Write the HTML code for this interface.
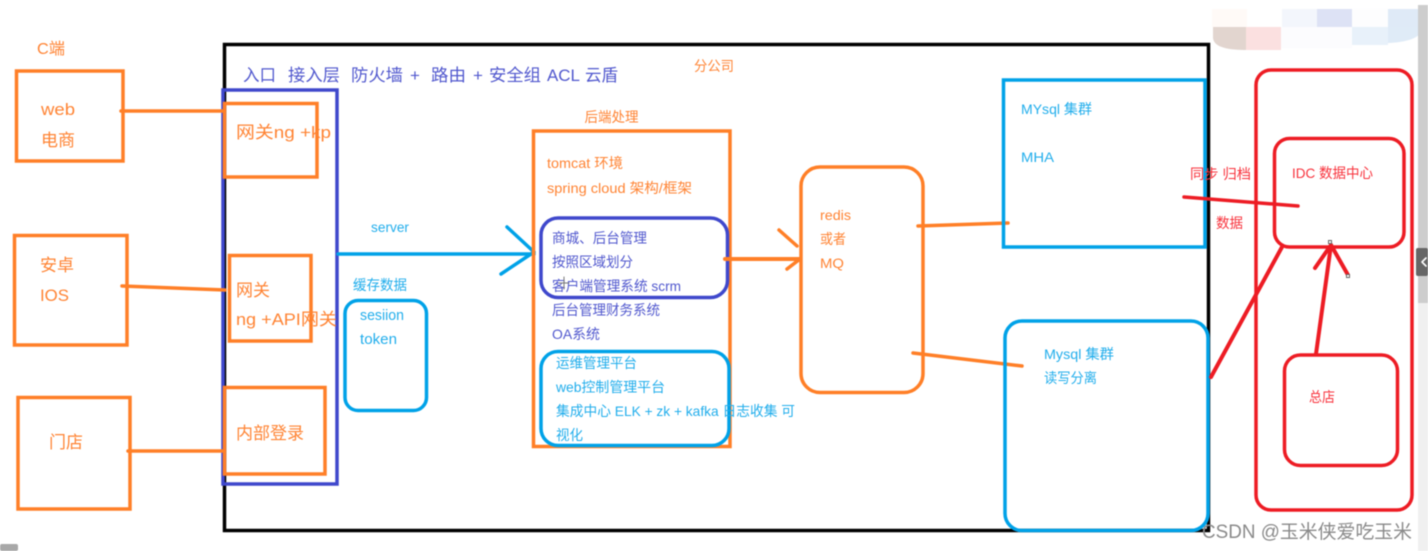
<!DOCTYPE html>
<html lang="zh-CN">
<head>
<meta charset="utf-8">
<title>架构图</title>
<style>
html,body{margin:0;padding:0;background:#fff;width:1428px;height:551px;overflow:hidden}
svg{display:block;filter:blur(.4px)}
text{font-family:"Liberation Sans","Noto Sans CJK SC",sans-serif;font-size:14px}
.o{fill:#ff8434}.b{fill:#22aeec}.i{fill:#5158ce}.r{fill:#f8323c}
.big{font-size:17px}.mid{font-size:15px}
.so{stroke:#ff7f27}.sb{stroke:#00a2e8}.si{stroke:#3f48cc}.sr{stroke:#ed1c24}
rect{fill:none}
line,polyline{fill:none;stroke-linecap:round;stroke-linejoin:round}
</style>
</head>
<body>
<svg width="1428" height="551" viewBox="0 0 1428 551" xmlns="http://www.w3.org/2000/svg">
<rect x="0" y="0" width="1428" height="551" style="fill:#fff"/>

<!-- mosaic -->
<g>
<rect x="1212" y="9" width="35" height="18" style="fill:#fffaf7"/>
<rect x="1282" y="9" width="35" height="18" style="fill:#f3f6fc"/>
<rect x="1317" y="9" width="35" height="18" style="fill:#dde2f5"/>
<rect x="1352" y="9" width="36" height="18" style="fill:#fdfdfe"/>
<rect x="1388" y="9" width="34" height="18" style="fill:#dfeaf7"/>
<path d="M1213 27H1247V50C1230 50 1214 48 1213 38Z" style="fill:#e2d5cf"/>
<rect x="1246" y="27" width="35" height="23" style="fill:#fbe0e0"/>
<rect x="1281" y="27" width="71" height="21" style="fill:#fcfcfe"/>
<rect x="1352" y="27" width="36" height="18" style="fill:#e8f1fa"/>
<path d="M1388 27H1423C1422 37 1410 42 1388 43Z" style="fill:#dfebf7"/>
</g>

<!-- scrollbar -->
<rect x="1418" y="5" width="10" height="546" style="fill:#f0f0f0"/>
<rect x="1418" y="5" width="10" height="298" style="fill:#cdcdcd"/>
<rect x="1416" y="248" width="12" height="28" rx="2" style="fill:#666"/>
<polyline points="1426,258 1422,262 1426,266" style="stroke:#fff;stroke-width:1.6"/>
<rect x="0" y="544" width="18" height="7" rx="2" style="fill:#a8a8a8"/>

<!-- outer black -->
<rect x="224.5" y="44.5" width="984" height="486" style="stroke:#000;stroke-width:3.5"/>

<!-- entry layer -->
<rect x="223" y="90" width="114" height="394" class="si" stroke-width="3.5"/>
<rect x="16.5" y="71" width="106.500" height="90" class="so" stroke-width="3.500"/>
<rect x="14.5" y="235.500" width="112.500" height="109.500" class="so" stroke-width="3.500"/>
<rect x="18" y="397.500" width="112" height="111.500" class="so" stroke-width="3.500"/>
<rect x="224.500" y="103.500" width="92.500" height="73.500" class="so" stroke-width="3.500"/>
<rect x="229.500" y="255.500" width="81.500" height="85.500" class="so" stroke-width="3.500"/>
<rect x="224.500" y="387.500" width="100.500" height="86.500" class="so" stroke-width="3.500"/>
<line x1="121" y1="111" x2="223" y2="111" class="so" stroke-width="3.500"/>
<line x1="122" y1="286" x2="225" y2="290" class="so" stroke-width="3.500"/>
<line x1="128" y1="451" x2="222" y2="451" class="so" stroke-width="3.500"/>

<!-- server arrow -->
<line x1="338" y1="254" x2="534" y2="254" class="sb" stroke-width="3.500"/>
<polyline points="507,227 534,252 501,274" class="sb" stroke-width="3.500"/>
<rect x="345" y="300.500" width="81.500" height="110" rx="13" class="sb" stroke-width="3.500"/>

<!-- backend -->
<rect x="533.500" y="131" width="196.500" height="315.500" class="so" stroke-width="3.500"/>
<rect x="541" y="218" width="186.500" height="79.500" rx="17" class="si" stroke-width="3.500"/>
<rect x="541" y="351.500" width="188" height="94" rx="17" class="sb" stroke-width="3.500"/>
<line x1="725" y1="259" x2="799" y2="259" class="so" stroke-width="4"/>
<line x1="779" y1="230" x2="797" y2="246" class="so" stroke-width="3.500"/>
<line x1="787" y1="269" x2="800" y2="259" class="so" stroke-width="3.500"/>

<!-- redis -->
<rect x="801" y="167" width="122" height="225.500" rx="19" class="so" stroke-width="3.500"/>
<line x1="918" y1="226" x2="1008" y2="223" class="so" stroke-width="3.500"/>
<line x1="913" y1="353" x2="1022" y2="366" class="so" stroke-width="3.500"/>

<!-- mysql -->
<rect x="1003.500" y="80" width="201.500" height="167" class="sb" stroke-width="3.500"/>
<rect x="1005" y="321" width="203" height="209.500" rx="17" class="sb" stroke-width="3.500"/>

<!-- red -->
<rect x="1256" y="70" width="156" height="440" rx="15" class="sr" stroke-width="3.500"/>
<rect x="1274.500" y="138.500" width="129.500" height="108.500" rx="15" class="sr" stroke-width="3.500"/>
<rect x="1284.500" y="355" width="113" height="110.500" rx="16" class="sr" stroke-width="3.500"/>
<line x1="1184" y1="197" x2="1298" y2="206" class="sr" stroke-width="3.500"/>
<line x1="1211" y1="377" x2="1282" y2="247" class="sr" stroke-width="4"/>
<line x1="1316" y1="354" x2="1331" y2="245" class="sr" stroke-width="4"/>
<polyline points="1315,268 1331,245 1348,275" class="sr" stroke-width="4"/>
<rect x="1328.500" y="240.500" width="3" height="3" style="fill:#fff;stroke:#666;stroke-width:1"/>
<rect x="1346.500" y="274.500" width="3" height="3" style="fill:#fff;stroke:#666;stroke-width:1"/>

<!-- labels left -->
<text class="o" x="37" y="54" style="font-size:16px" textLength="28" lengthAdjust="spacingAndGlyphs">C端</text>
<text class="o big" x="41" y="115" textLength="34" lengthAdjust="spacingAndGlyphs">web</text>
<text class="o big" x="41" y="146" textLength="34" lengthAdjust="spacingAndGlyphs">电商</text>
<text class="o big" x="40" y="271" textLength="34" lengthAdjust="spacingAndGlyphs">安卓</text>
<text class="o big" x="40" y="301" textLength="29" lengthAdjust="spacingAndGlyphs">IOS</text>
<text class="o big" x="49" y="448" textLength="34" lengthAdjust="spacingAndGlyphs">门店</text>
<text class="o big" x="236" y="138" textLength="95" lengthAdjust="spacingAndGlyphs">网关ng +kp</text>
<text class="o big" x="236" y="296" textLength="34" lengthAdjust="spacingAndGlyphs">网关</text>
<text class="o big" x="236" y="325" textLength="101" lengthAdjust="spacingAndGlyphs">ng +API网关</text>
<text class="o big" x="236" y="439" textLength="68" lengthAdjust="spacingAndGlyphs">内部登录</text>

<!-- header -->
<text class="i big" x="243" y="81" textLength="33" lengthAdjust="spacingAndGlyphs">入口</text>
<text class="i big" x="288" y="81" textLength="52" lengthAdjust="spacingAndGlyphs">接入层</text>
<text class="i big" x="351" y="81" textLength="52" lengthAdjust="spacingAndGlyphs">防火墙</text>
<text class="i big" x="410" y="81">+</text>
<text class="i big" x="431" y="81" textLength="35" lengthAdjust="spacingAndGlyphs">路由</text>
<text class="i big" x="473" y="81">+</text>
<text class="i big" x="489" y="81" textLength="52" lengthAdjust="spacingAndGlyphs">安全组</text>
<text class="i big" x="547" y="81" textLength="33" lengthAdjust="spacingAndGlyphs">ACL</text>
<text class="i big" x="585" y="81" textLength="33" lengthAdjust="spacingAndGlyphs">云盾</text>
<text class="o" x="694" y="71" textLength="40" lengthAdjust="spacingAndGlyphs">分公司</text>

<!-- middle -->
<text class="b" x="371" y="232" textLength="38" lengthAdjust="spacingAndGlyphs">server</text>
<text class="b" x="353" y="290" textLength="54" lengthAdjust="spacingAndGlyphs">缓存数据</text>
<text class="b mid" x="360" y="320" textLength="44" lengthAdjust="spacingAndGlyphs">sesiion</text>
<text class="b mid" x="360" y="344" textLength="37" lengthAdjust="spacingAndGlyphs">token</text>

<text class="o" x="584.500" y="122" textLength="54" lengthAdjust="spacingAndGlyphs">后端处理</text>
<text class="o" x="547" y="168" textLength="76" lengthAdjust="spacingAndGlyphs">tomcat 环境</text>
<text class="o" x="547" y="193" textLength="145" lengthAdjust="spacingAndGlyphs">spring cloud 架构/框架</text>
<text class="i" x="552" y="243" textLength="95" lengthAdjust="spacingAndGlyphs">商城、后台管理</text>
<text class="i" x="552" y="267" textLength="81" lengthAdjust="spacingAndGlyphs">按照区域划分</text>
<text class="i" x="552" y="291" textLength="129" lengthAdjust="spacingAndGlyphs">客户端管理系统 scrm</text>
<text class="i" x="552" y="315" textLength="108" lengthAdjust="spacingAndGlyphs">后台管理财务系统</text>
<text class="i" x="552" y="339" textLength="48" lengthAdjust="spacingAndGlyphs">OA系统</text>
<line x1="564" y1="277" x2="564" y2="289" style="stroke:#777;stroke-width:1"/>
<line x1="559" y1="283" x2="569" y2="283" style="stroke:#777;stroke-width:1"/>
<text class="b" x="556" y="368" textLength="81" lengthAdjust="spacingAndGlyphs">运维管理平台</text>
<text class="b" x="556" y="392" textLength="109" lengthAdjust="spacingAndGlyphs">web控制管理平台</text>
<text class="b" x="556" y="416" textLength="239" lengthAdjust="spacingAndGlyphs">集成中心 ELK + zk + kafka 日志收集 可</text>
<text class="b" x="556" y="440" textLength="27" lengthAdjust="spacingAndGlyphs">视化</text>

<text class="o" x="820" y="220" textLength="31" lengthAdjust="spacingAndGlyphs">redis</text>
<text class="o" x="820" y="244" textLength="26" lengthAdjust="spacingAndGlyphs">或者</text>
<text class="o" x="820" y="268" textLength="24" lengthAdjust="spacingAndGlyphs">MQ</text>

<!-- right -->
<text class="b" x="1021" y="114" textLength="71" lengthAdjust="spacingAndGlyphs">MYsql 集群</text>
<text class="b" x="1021" y="162" textLength="33" lengthAdjust="spacingAndGlyphs">MHA</text>
<text class="b" x="1044" y="359" textLength="70" lengthAdjust="spacingAndGlyphs">Mysql 集群</text>
<text class="b" x="1044" y="383" textLength="53" lengthAdjust="spacingAndGlyphs">读写分离</text>
<text class="r" x="1190" y="179" textLength="61" lengthAdjust="spacingAndGlyphs">同步 归档</text>
<text class="r" x="1216" y="228" textLength="27" lengthAdjust="spacingAndGlyphs">数据</text>
<text class="r" x="1292" y="178" textLength="81" lengthAdjust="spacingAndGlyphs">IDC 数据中心</text>
<text class="r" x="1309" y="402" textLength="26" lengthAdjust="spacingAndGlyphs">总店</text>

<text x="1202" y="538" textLength="210" lengthAdjust="spacingAndGlyphs" style="font-size:19px;fill:#8a8a8a">CSDN @玉米侠爱吃玉米</text>
</svg>
</body>
</html>
